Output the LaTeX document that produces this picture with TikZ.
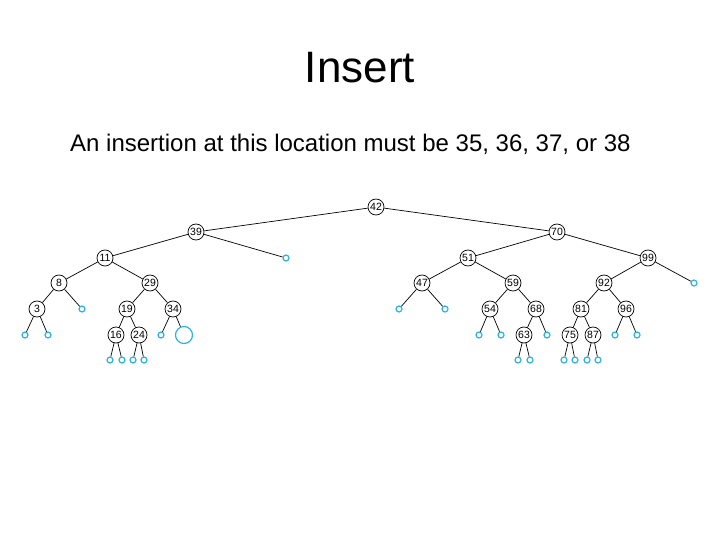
\documentclass[tikz,border=0pt]{standalone}
\usepackage{fontspec}
\setmainfont{Liberation Sans}
\usepackage{tikz}
\usetikzlibrary{positioning}
\definecolor{leafblue}{RGB}{45,180,220}

\begin{document}
\begin{tikzpicture}[x=1pt,y=-1pt,line join=round,
  key/.style={circle,draw,line width=0.7pt,inner sep=0pt,minimum size=16pt,font=\fontsize{10.5}{10.5}\selectfont},
  leaf/.style={circle,draw=leafblue,line width=1.2pt,inner sep=0pt,minimum size=6pt},
  hole/.style={circle,draw=leafblue,line width=1.2pt,inner sep=0pt,minimum size=17pt},
  edge/.style={line width=0.7pt}]
\useasboundingbox (0,0) rectangle (720,540);
% title and caption
\node[font=\fontsize{44}{44}\selectfont] (title) at (360,68) {Insert};
\node[font=\fontsize{24}{24}\selectfont,anchor=base west,inner sep=0pt] (note) at (70,152) {An insertion at this location must be 35, 36, 37, or 38};
% keys
\node[key] (k42) at (376,207) {42};
\node[key] (k39) at (196,232) {39};
\node[key] (k70) at (557,232) {70};
\node[key] (k11) at (105,258) {11};
\node[key] (k51) at (468,258) {51};
\node[key] (k99) at (648,258) {99};
\node[key] (k8) at (59,283) {8};
\node[key] (k29) at (150,283) {29};
\node[key] (k47) at (422,283) {47};
\node[key] (k59) at (513,283) {59};
\node[key] (k92) at (604,283) {92};
\node[key] (k3) at (37,309) {3};
\node[key] (k19) at (127,309) {19};
\node[key] (k34) at (173,309) {34};
\node[key] (k54) at (490,309) {54};
\node[key] (k68) at (536,309) {68};
\node[key] (k81) at (581,309) {81};
\node[key] (k96) at (626,309) {96};
\node[key] (k16) at (116,335) {16};
\node[key] (k24) at (139,335) {24};
\node[key] (k63) at (524,335) {63};
\node[key] (k75) at (570,335) {75};
\node[key] (k87) at (593,335) {87};
% empty leaves
\foreach \n/\x/\y in {l39/286/258, l99/694/283, l8/82/309, l47a/399/309, l47b/445/309,
  l3a/25/335, l3b/48/335, l34/161/335, l54a/479/335, l54b/501/335, l68/547/335,
  l96a/615/335, l96b/637/335,
  l16a/110/360, l16b/122/360, l24a/133/360, l24b/144/360, l63a/518/360, l63b/530/360,
  l75a/564/360, l75b/575/360, l87a/587/360, l87b/598/360}
  \node[leaf] (\n) at (\x,\y) {};
% the insertion point
\node[hole] (h34) at (184,335) {};
% links
\foreach \a/\b in {k42/k39, k42/k70, k39/k11, k39/l39, k70/k51, k70/k99,
  k11/k8, k11/k29, k51/k47, k51/k59, k99/k92, k99/l99,
  k8/k3, k8/l8, k29/k19, k29/k34, k47/l47a, k47/l47b, k59/k54, k59/k68,
  k92/k81, k92/k96, k3/l3a, k3/l3b, k19/k16, k19/k24, k34/l34, k34/h34,
  k54/l54a, k54/l54b, k68/k63, k68/l68, k81/k75, k81/k87, k96/l96a, k96/l96b,
  k16/l16a, k16/l16b, k24/l24a, k24/l24b, k63/l63a, k63/l63b,
  k75/l75a, k75/l75b, k87/l87a, k87/l87b}
  \draw[edge] (\a) -- (\b);
\end{tikzpicture}
\end{document}
